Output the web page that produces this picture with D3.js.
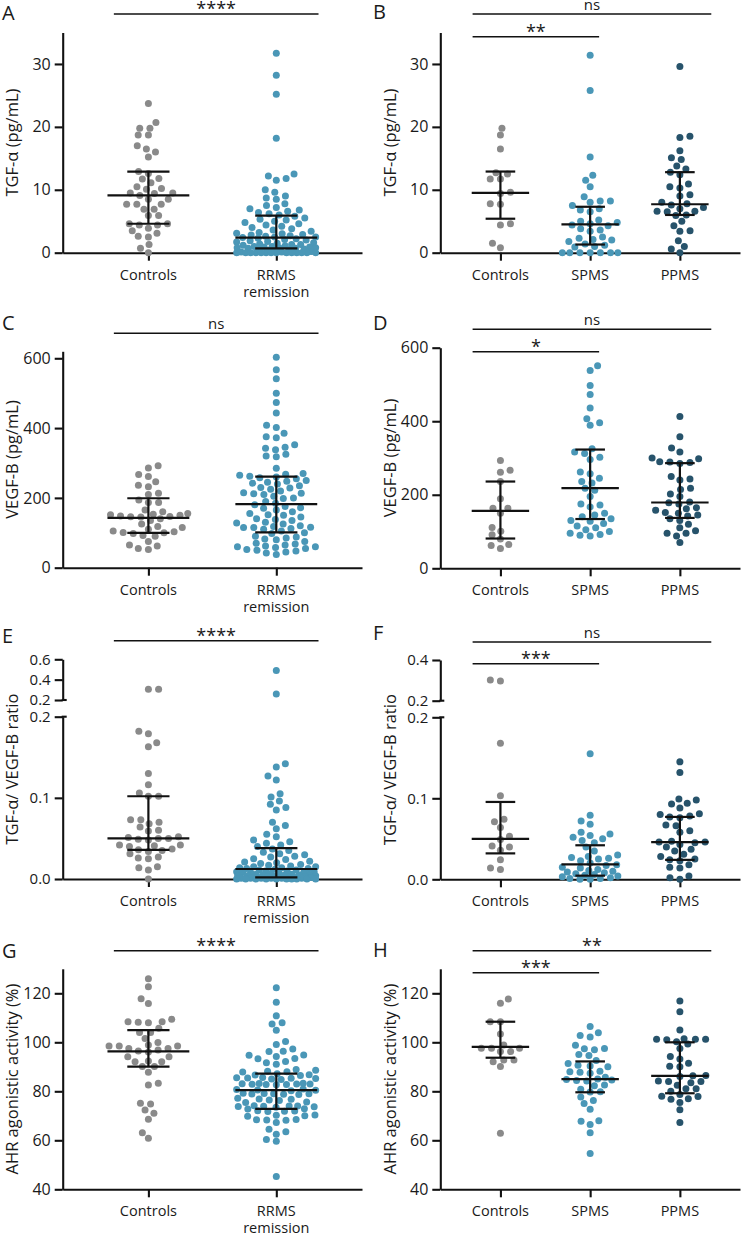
<!DOCTYPE html>
<html><head><meta charset="utf-8">
<script src="https://cdn.jsdelivr.net/npm/d3@7"></script>
<style>
body{margin:0;background:#fff;}
text{font-family:"Open Sans",sans-serif;fill:#1a1a1a;}
</style></head><body>
<svg id="fig" width="743" height="1235"></svg>
<script>
// ---------------- DATA ----------------
const catsRR = ["Controls", "RRMS remission"];
const catsProg = ["Controls", "SPMS", "PPMS"];

const titleTGF = "TGF-α (pg/mL)";
const titleVEGF = "VEGF-B (pg/mL)";
const titleRatio = "TGF-α/ VEGF-B ratio";
const titleAHR = "AHR agonistic activity (%)";

const ticksTGF = [0, 10, 20, 30];
const ticksVEGF = [0, 200, 400, 600];
const ticksRatioLow = [0, 0.1, 0.2];
const ticksRatioHighE = [0.2, 0.4, 0.6];
const ticksRatioHighF = [0.2, 0.4];
const ticksAHR = [40, 60, 80, 100, 120];

// Panel A: TGF-alpha, controls vs RRMS remission
const aControls = [23.7, 20.7, 19.8, 19.8, 18.7, 18.7, 17.0, 16.5, 16.0, 15.2, 12.9, 12.6, 11.8, 11.7, 11.1, 10.5, 10.2, 10.1, 9.5, 9.5, 9.4, 9.1, 8.5, 8.5, 7.7, 7.7, 7.7, 6.9, 6.9, 5.9, 5.9, 4.6, 4.6, 4.4, 4.4, 3.9, 3.5, 3.1, 2.6, 2.5, 1.3, 0.7, 0.0];
const aRRMS = [31.7, 28.2, 25.2, 18.2, 12.5, 12.2, 11.8, 11.5, 10.0, 9.6, 9.0, 8.7, 8.5, 7.8, 7.5, 7.2, 7.0, 6.8, 6.6, 6.4, 6.2, 6.0,
  5.8, 5.5, 5.3, 5.2, 5.0, 4.8, 4.6, 4.4, 4.2, 4.0, 3.8, 3.6, 3.4, 3.2, 3.1, 3.0, 2.9, 2.8, 2.7, 2.6, 2.5, 2.5, 2.4,
  2.3, 2.2, 2.1, 2.0, 1.9, 1.8, 1.7, 1.6, 1.5, 1.4, 1.3, 1.3, 1.2, 1.1, 1.0, 1.0, 0.9, 0.9, 0.8, 0.8, 0.8, 0.7, 0.7,
  0.6, 0.5, 0.5, 0.4, 0.3, 0.2, 0.1, 0.1, 0, 0, 0, 0, 0, 0, 0, 0, 0, 0, 0, 0, 0, 0];
const aMedian = [9.1, 2.4], aQ1 = [4.6, 0.7], aQ3 = [12.9, 5.9];
const aSig = ["****"];

// Panel B: TGF-alpha, controls vs SPMS vs PPMS
const bControls = [19.8, 18.7, 16.5, 12.7, 12.5, 11.7, 11.7, 9.6, 9.4, 7.8, 7.7, 4.6, 4.4, 1.5, 0.8];
const bSPMS = [31.4, 25.8, 15.2, 12.3, 11.5, 10.5, 8.9, 8.2, 8.2, 8.0, 7.5, 7.0, 6.8, 6.5, 5.2, 5.0, 4.8, 4.6, 4.4, 4.3,
  3.8, 3.6, 3.4, 2.5, 2.3, 2.1, 2.0, 1.8, 1.4, 1.2, 1.0, 0.9, 0, 0, 0, 0, 0, 0, 0];
const bPPMS = [29.6, 18.5, 18.3, 16.2, 15.1, 14.8, 13.8, 13.3, 12.8, 12.4, 10.9, 10.5, 10.3, 9.2, 9.0, 8.0, 7.8, 7.6, 7.2, 7.0,
  6.6, 6.6, 6.5, 6.0, 5.9, 5.0, 4.3, 3.5, 3.4, 1.9, 1.0, 0.6, 0.0];
const bMedian = [9.5, 4.5, 7.7], bQ1 = [5.4, 1.3, 6.0], bQ3 = [12.9, 7.3, 12.8];
const bSig = ["ns", "**"];

// Panel C: VEGF-B, controls vs RRMS remission
const cControls = [292, 286, 267, 261, 246, 236, 232, 213, 210, 194, 187, 187, 165, 160, 155, 153, 152, 150, 148, 147,
  146, 145, 140, 135, 125, 118, 115, 110, 105, 103, 101, 100, 98, 92, 90, 75, 65, 62, 55, 52];
const cRRMS = [603, 567, 541, 500, 473, 443, 408, 402, 385, 375, 372, 352, 345, 342, 338, 325, 320, 318, 285, 270,
  268, 265, 262, 260, 258, 255, 250, 248, 245, 242, 240, 235, 230, 228, 225, 220, 215, 213, 212, 210,
  205, 200, 198, 190, 185, 180, 175, 172, 170, 165, 160, 155, 152, 150, 145, 140, 138, 135, 130, 128,
  125, 120, 118, 116, 115, 115, 112, 110, 105, 100, 98, 90, 88, 85, 82, 80, 75, 70, 68, 65,
  62, 60, 60, 58, 55, 52, 50, 48, 45, 42, 38];
const cMedian = [143, 182], cQ1 = [100, 101], cQ3 = [199, 261];
const cSig = ["ns"];

// Panel D: VEGF-B, controls vs SPMS vs PPMS
const dControls = [293, 267, 261, 236, 189, 163, 163, 150, 111, 101, 91, 80, 65, 62, 54];
const dSPMS = [551, 538, 497, 473, 436, 407, 396, 389, 325, 316, 312, 302, 296, 262, 257, 245, 236, 232, 218, 212,
  195, 175, 172, 167, 150, 145, 140, 135, 130, 128, 122, 115, 110, 105, 100, 95, 92, 90, 88];
const dPPMS = [413, 358, 327, 316, 300, 298, 290, 289, 288, 285, 250, 243, 240, 218, 214, 202, 195, 180, 178, 175,
  165, 162, 158, 152, 150, 145, 142, 135, 130, 120, 110, 102, 95, 95, 88, 70];
const dMedian = [156, 218, 179], dQ1 = [81, 134, 137], dQ3 = [236, 323, 286];
const dSig = ["ns", "*"];

// Panel E: TGF-alpha / VEGF-B ratio, controls vs RRMS remission
const eControls = [0.305, 0.305, 0.182, 0.179, 0.168, 0.163, 0.130, 0.116, 0.106, 0.102, 0.102, 0.073, 0.073, 0.070, 0.068,
  0.064, 0.060, 0.059, 0.052, 0.051, 0.050, 0.050, 0.049, 0.048, 0.042, 0.042, 0.041, 0.040, 0.037, 0.036,
  0.035, 0.034, 0.031, 0.027, 0.026, 0.025, 0.015, 0.014, 0.011, 0.0];
const eRRMS = [0.489, 0.259, 0.142, 0.138, 0.127, 0.122, 0.105, 0.101, 0.096, 0.092, 0.088, 0.085, 0.070, 0.066, 0.062,
  0.055, 0.052, 0.048, 0.046, 0.044, 0.042, 0.040,
  0.037, 0.035, 0.033, 0.031, 0.030, 0.028, 0.027, 0.025, 0.024, 0.022, 0.021, 0.020, 0.019, 0.018, 0.017, 0.016,
  0.015, 0.015, 0.014, 0.014, 0.013, 0.013, 0.012,
  0.011, 0.011, 0.010, 0.010, 0.009, 0.009, 0.008, 0.008, 0.008, 0.007, 0.007, 0.006, 0.006, 0.006, 0.005, 0.005,
  0.005, 0.004, 0.004, 0.004, 0.003, 0.003, 0.003,
  0.002, 0.002, 0.002, 0.002, 0.002, 0.002, 0.001, 0.001, 0.001, 0.001, 0.001, 0.001, 0, 0, 0, 0, 0, 0, 0, 0, 0, 0];
const eMedian = [0.050, 0.0123], eQ1 = [0.036, 0.002], eQ3 = [0.102, 0.038];
const eSig = ["****"];

// Panel F: ratio, controls vs SPMS vs PPMS
const fControls = [0.302, 0.297, 0.168, 0.103, 0.074, 0.071, 0.064, 0.053, 0.049, 0.041, 0.040, 0.036, 0.024, 0.014, 0.012];
const fSPMS = [0.155, 0.079, 0.072, 0.068, 0.058, 0.056, 0.054, 0.052, 0.050, 0.048, 0.045, 0.040, 0.035, 0.030, 0.028,
  0.027, 0.026, 0.025, 0.023, 0.020, 0.018, 0.017, 0.015, 0.014, 0.012, 0.011, 0.010, 0.009, 0.008, 0.007,
  0.006, 0.005, 0.004, 0.003, 0.002, 0.001, 0.001, 0.0, 0.0];
const fPPMS = [0.145, 0.132, 0.099, 0.098, 0.094, 0.093, 0.088, 0.081, 0.080, 0.078, 0.077, 0.076, 0.067, 0.066, 0.060,
  0.058, 0.047, 0.046, 0.046, 0.045, 0.043, 0.040, 0.037, 0.035, 0.031, 0.028, 0.025, 0.024, 0.023, 0.018,
  0.015, 0.014, 0.004, 0.002, 0.0];
const fMedian = [0.050, 0.0185, 0.046], fQ1 = [0.032, 0.0045, 0.024], fQ3 = [0.0955, 0.042, 0.077];
const fSig = ["ns", "***"];

// Panel G: AHR agonistic activity, controls vs RRMS remission
const gControls = [125.9, 122.7, 117.8, 115.8, 109.4, 108.4, 108.4, 108.2, 108.0, 105.7, 104.0, 104.0, 101.6, 99.9, 98.9,
  98.5, 98.5, 98.5, 97.5, 97.5, 96.9, 96.5, 96.0, 94.1, 94.1, 92.4, 92.1, 92.1, 90.1, 90.1,
  87.8, 83.3, 82.6, 75.1, 74.8, 72.4, 71.0, 68.6, 63.1, 60.8];
const gRRMS = [122.3, 116.3, 110.8, 108.0, 107.5, 104.9, 100.3, 99.1, 97.3, 96.3, 96.2, 94.8, 94.7, 94.2, 93.4, 93.3, 92.2, 91.7, 91.0,
  88.9, 88.6, 88.2, 88.0, 87.9, 87.2, 86.8, 86.7, 86.5,
  85.6, 85.5, 85.4, 85.3, 85.2, 85.0, 84.8,
  83.3, 83.2, 83.1, 83.0, 83.0, 82.9, 82.8, 82.8, 82.7,
  80.9, 80.7, 80.5, 80.4, 80.2,
  79.2, 79.1, 79.0, 79.0, 78.9, 78.8, 78.7,
  77.2, 76.9, 76.8, 76.5, 76.2, 75.6, 75.4,
  74.1, 74.0, 74.0, 73.9, 73.8, 73.7, 73.5,
  72.9, 72.8, 72.1, 72.0, 71.9, 71.8,
  70.3, 70.2, 70.0, 69.8,
  68.5, 68.4, 68.3, 68.2, 67.3,
  64.5, 63.5, 62.5, 60.3, 59.6, 45.2];
const gMedian = [96.3, 80.5], gQ1 = [90.1, 72.8], gQ3 = [105.0, 87.2];
const gSig = ["****"];

// Panel H: AHR agonistic activity, controls vs SPMS vs PPMS
const hControls = [117.7, 115.9, 108.4, 108.4, 103.4, 98.9, 97.6, 97.6, 97.6, 96.2, 96.2, 92.8, 92.8, 92.1, 90.1, 62.9];
const hSPMS = [106.4, 103.9, 102.8, 102.2, 98.8, 97.5, 97.4, 97.0, 95.0, 94.6, 92.6, 91.3, 90.6, 90.3, 90.0, 88.2, 88.0, 87.8, 87.4, 85.7,
  85.0, 84.8, 84.6, 84.4, 84.2, 82.6, 82.3, 80.8, 79.8, 79.7, 77.7, 76.2, 75.0, 72.7, 68.0, 67.8, 66.5, 63.1, 54.6];
const hPPMS = [116.9, 112.5, 105.0, 101.4, 101.2, 101.2, 101.2, 101.0, 100.2, 99.3, 97.5, 94.2, 93.2, 91.5, 90.2, 90.0, 86.5, 86.3, 86.0, 84.2,
  84.0, 84.0, 83.5, 82.5, 81.0, 81.0, 80.0, 78.7, 78.0, 77.9, 77.0, 76.8, 75.4, 72.5, 67.3];
const hMedian = [98.1, 85.0, 86.3], hQ1 = [93.7, 79.6, 79.2], hQ3 = [108.4, 92.2, 100.0];
const hSig = ["**", "***"];

// ---------------- LAYOUT / STYLE ----------------
const colorsRR = ["#8a8a8a", "#4a97b7"];
const colorsProg = ["#8a8a8a", "#4a97b7", "#27536b"];
const COL = {
  L: {axisX: 62.7, right: 362, letterX: 2},
  R: {axisX: 440.3, right: 740, letterX: 373}
};

const panels = [
  {letter: "A", side: "L", cats: catsRR, groups: [aControls, aRRMS], med: aMedian, q1: aQ1, q3: aQ3, title: titleTGF,
   scale: {domain: [0, 35], range: [252.7, 32.5], ticks: ticksTGF, fmt: d3.format("d")},
   sig: [{a: 0, b: 1, label: aSig[0], y: 14}], letterY: 20},
  {letter: "B", side: "R", cats: catsProg, groups: [bControls, bSPMS, bPPMS], med: bMedian, q1: bQ1, q3: bQ3, title: titleTGF,
   scale: {domain: [0, 35], range: [252.7, 32.5], ticks: ticksTGF, fmt: d3.format("d")},
   sig: [{a: 0, b: 2, label: bSig[0], y: 14}, {a: 0, b: 1, label: bSig[1], y: 36.7}], letterY: 19},
  {letter: "C", side: "L", cats: catsRR, groups: [cControls, cRRMS], med: cMedian, q1: cQ1, q3: cQ3, title: titleVEGF,
   scale: {domain: [0, 620], range: [567.7, 351.3], ticks: ticksVEGF, fmt: d3.format("d")},
   sig: [{a: 0, b: 1, label: cSig[0], y: 333.3}], letterY: 330},
  {letter: "D", side: "R", cats: catsProg, groups: [dControls, dSPMS, dPPMS], med: dMedian, q1: dQ1, q3: dQ3, title: titleVEGF,
   scale: {domain: [0, 600], range: [568.3, 347.7], ticks: ticksVEGF, fmt: d3.format("d")},
   sig: [{a: 0, b: 2, label: dSig[0], y: 329.3}, {a: 0, b: 1, label: dSig[1], y: 351.7}], letterY: 330},
  {letter: "E", side: "L", cats: catsRR, groups: [eControls, eRRMS], med: eMedian, q1: eQ1, q3: eQ3, title: titleRatio,
   broken: {low: {domain: [0, 0.2], range: [879, 716.7], ticks: ticksRatioLow},
            high: {domain: [0.2, 0.6], range: [700, 659.3], ticks: ticksRatioHighE}, fmt: d3.format(".1f")},
   sig: [{a: 0, b: 1, label: eSig[0], y: 640.7}], letterY: 643},
  {letter: "F", side: "R", cats: catsProg, groups: [fControls, fSPMS, fPPMS], med: fMedian, q1: fQ1, q3: fQ3, title: titleRatio,
   broken: {low: {domain: [0, 0.2], range: [879.3, 717.3], ticks: ticksRatioLow},
            high: {domain: [0.2, 0.4], range: [700.7, 660], ticks: ticksRatioHighF}, fmt: d3.format(".1f")},
   sig: [{a: 0, b: 2, label: fSig[0], y: 642}, {a: 0, b: 1, label: fSig[1], y: 663.7}], letterY: 640},
  {letter: "G", side: "L", cats: catsRR, groups: [gControls, gRRMS], med: gMedian, q1: gQ1, q3: gQ3, title: titleAHR,
   scale: {domain: [40, 130], range: [1189.3, 968.8], ticks: ticksAHR, fmt: d3.format("d")},
   sig: [{a: 0, b: 1, label: gSig[0], y: 950.7}], letterY: 958},
  {letter: "H", side: "R", cats: catsProg, groups: [hControls, hSPMS, hPPMS], med: hMedian, q1: hQ1, q3: hQ3, title: titleAHR,
   scale: {domain: [40, 130], range: [1189.3, 968.8], ticks: ticksAHR, fmt: d3.format("d")},
   sig: [{a: 0, b: 2, label: hSig[0], y: 950.7}, {a: 0, b: 1, label: hSig[1], y: 972.7}], letterY: 957}
];

const R = 3.5;          // dot radius
const SX = 10.2, SY = 7.0; // swarm spacing (horizontal, vertical)
const AXW = 2.1;

// beeswarm layout
function swarm(vals, yf, cx, W) {
  const idx = vals.map((v, i) => i).sort((a, b) => vals[a] - vals[b]);
  const placed = [];
  const out = new Array(vals.length);
  let flip = 1;
  for (const i of idx) {
    const py = yf(vals[i]);
    const near = placed.filter(p => Math.abs(p.y - py) < SY);
    const cands = [0];
    near.forEach(p => {
      const dy = (p.y - py) / SY;
      const dx = SX * Math.sqrt(Math.max(0, 1 - dy * dy));
      cands.push(p.x + dx, p.x - dx);
    });
    cands.sort((a, b) => (Math.abs(a) - Math.abs(b)) || (flip * (a - b)));
    const ok = x => near.every(p => {
      const ex = (p.x - x) / SX, ey = (p.y - py) / SY;
      return ex * ex + ey * ey >= 0.998;
    });
    let bx = null;
    for (const c of cands) { if (Math.abs(c) <= W && ok(c)) { bx = c; break; } }
    if (bx === null) {
      let best = -1; bx = 0;
      for (let x = -W; x <= W + 1e-6; x += 0.5) {
        let md = Infinity;
        near.forEach(p => { const ex = (p.x - x) / SX, ey = (p.y - py) / SY; md = Math.min(md, ex * ex + ey * ey); });
        if (md > best + 1e-9 || (Math.abs(md - best) < 1e-9 && Math.abs(x) < Math.abs(bx))) { best = md; bx = x; }
      }
    }
    if (bx !== 0) flip = -flip;
    placed.push({x: bx, y: py});
    out[i] = {x: cx + bx, y: py};
  }
  return out;
}

const svg = d3.select("#fig");
svg.append("rect").attr("width", 743).attr("height", 1235).attr("fill", "#fff");

panels.forEach(P => {
  const col = COL[P.side];
  const g = svg.append("g");
  const x = d3.scalePoint().domain(P.cats).range([col.axisX, col.right]).padding(0.67);
  const step = x.step();
  let yf, yBottom, yTop;
  if (P.broken) {
    const lo = d3.scaleLinear().domain(P.broken.low.domain).range(P.broken.low.range);
    const hi = d3.scaleLinear().domain(P.broken.high.domain).range(P.broken.high.range);
    yf = v => v <= P.broken.low.domain[1] ? lo(v) : hi(v);
    yBottom = lo(0); yTop = P.broken.high.range[1];
    [[lo, P.broken.low.ticks], [hi, P.broken.high.ticks]].forEach(([s, t]) => {
      const ax = g.append("g").attr("transform", `translate(${col.axisX},0)`)
        .call(d3.axisLeft(s).tickValues(t).tickSize(8).tickSizeOuter(0).tickPadding(4).tickFormat(P.broken.fmt));
      styleAxis(ax, 15);
    });
    // break caps
    [lo(P.broken.low.domain[1]), hi(P.broken.high.domain[0])].forEach(yy => {
      g.append("line").attr("x1", col.axisX - 1).attr("x2", col.axisX + 4).attr("y1", yy).attr("y2", yy)
        .attr("stroke", "#111").attr("stroke-width", AXW);
    });
  } else {
    const s = d3.scaleLinear().domain(P.scale.domain).range(P.scale.range);
    yf = s; yBottom = s(P.scale.domain[0]); yTop = P.scale.range[1];
    const ax = g.append("g").attr("transform", `translate(${col.axisX},0)`)
      .call(d3.axisLeft(s).tickValues(P.scale.ticks).tickSize(8).tickSizeOuter(0).tickPadding(4).tickFormat(P.scale.fmt));
    styleAxis(ax, 16);
  }
  // x axis
  const xa = g.append("g").attr("transform", `translate(0,${yBottom})`)
    .call(d3.axisBottom(x).tickSize(8).tickSizeOuter(0).tickFormat(""));
  styleAxis(xa, 16);
  P.cats.forEach(c => {
    const t = g.append("text").attr("x", x(c)).attr("y", yBottom + 27).attr("text-anchor", "middle")
      .style("font-size", "14.5px");
    c.split(" ").forEach((w, k) => t.append("tspan").attr("x", x(c)).attr("dy", k ? 17 : 0).text(w));
  });
  // y title
  g.append("text").attr("transform", `translate(${col.axisX - 51},${(yBottom + yTop) / 2}) rotate(-90)`)
    .attr("text-anchor", "middle").attr("dominant-baseline", "central").style("font-size", "16.5px").text(P.title);
  // panel letter
  g.append("text").attr("x", col.letterX).attr("y", P.letterY).style("font-size", "20px").text(P.letter);

  // dots
  const colors = P.cats.length === 2 ? colorsRR : colorsProg;
  P.groups.forEach((vals, gi) => {
    const pts = swarm(vals, yf, x(P.cats[gi]), 0.31 * step);
    g.append("g").selectAll("circle").data(pts).join("circle")
      .attr("cx", d => d.x).attr("cy", d => d.y).attr("r", R).attr("fill", colors[gi]);
  });
  // median + IQR
  P.cats.forEach((c, gi) => {
    const cx = x(c);
    const eb = g.append("g").attr("stroke", "#111").attr("stroke-width", 2.2).attr("fill", "none");
    eb.append("line").attr("x1", cx).attr("x2", cx).attr("y1", yf(P.q1[gi])).attr("y2", yf(P.q3[gi]));
    eb.append("line").attr("x1", cx - 0.32 * step).attr("x2", cx + 0.32 * step).attr("y1", yf(P.med[gi])).attr("y2", yf(P.med[gi]));
    [P.q1[gi], P.q3[gi]].forEach(q => {
      eb.append("line").attr("x1", cx - 0.165 * step).attr("x2", cx + 0.165 * step).attr("y1", yf(q)).attr("y2", yf(q));
    });
  });
  // significance bars
  const last = P.cats.length - 1;
  P.sig.forEach(S => {
    const x1 = x(P.cats[S.a]) - (P.side === "L" ? 0.27 : 0.31) * step;
    const x2 = x(P.cats[S.b]) + (S.b === last ? (P.side === "L" ? 0.33 : 0.35) : 0.1) * step;
    g.append("line").attr("x1", x1).attr("x2", x2).attr("y1", S.y).attr("y2", S.y)
      .attr("stroke", "#111").attr("stroke-width", 1.4);
    const isNs = S.label === "ns";
    g.append("text").attr("x", (x1 + x2) / 2).attr("y", isNs ? S.y - 4 : S.y + 1)
      .attr("text-anchor", "middle").style("font-size", isNs ? "15px" : "18px").text(S.label);
  });
});

function styleAxis(ax, fs) {
  ax.select(".domain").attr("stroke", "#111").attr("stroke-width", AXW);
  ax.selectAll(".tick line").attr("stroke", "#111").attr("stroke-width", AXW);
  ax.selectAll(".tick text").attr("fill", "#1a1a1a").style("font-family", '"Open Sans",sans-serif').style("font-size", fs + "px");
}
</script>
</body></html>
